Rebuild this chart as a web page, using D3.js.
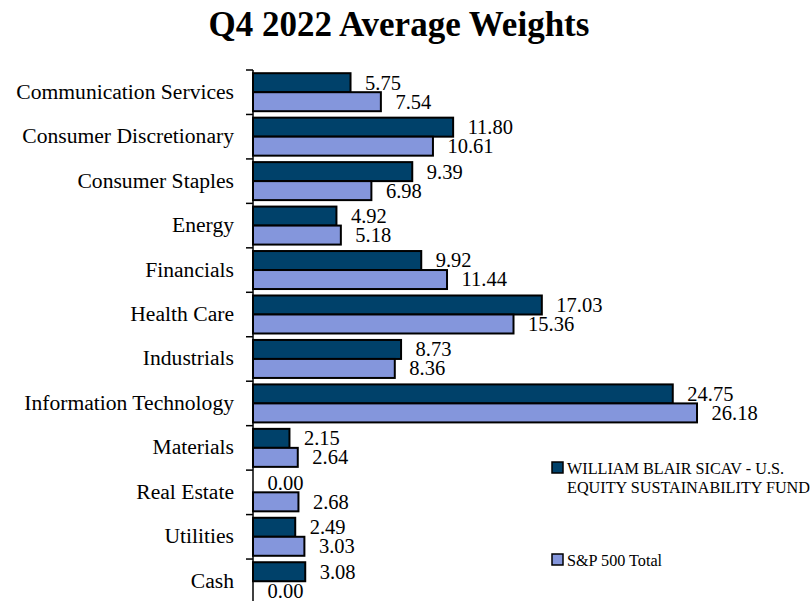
<!DOCTYPE html>
<meta charset="utf-8">
<style>
body { margin: 0; background: #fff; }
svg text { font-family: 'Liberation Serif', serif; fill: #000; }
.title { font-size: 35px; font-weight: bold; }
.cat { font-size: 21.6px; }
.val { font-size: 20.5px; }
.legend text { font-size: 16.2px; }
</style>
<svg width="811" height="601"></svg>
<script src="https://d3js.org/d3.v7.min.js"></script>
<script>

var categories = ["Communication Services", "Consumer Discretionary", "Consumer Staples", "Energy",
    "Financials", "Health Care", "Industrials", "Information Technology", "Materials",
    "Real Estate", "Utilities", "Cash"];
var seriesNames = ["WILLIAM BLAIR SICAV - U.S. EQUITY SUSTAINABILITY FUND", "S&P 500 Total"];
var fundValues = [5.75, 11.80, 9.39, 4.92, 9.92, 17.03, 8.73, 24.75, 2.15, 0.00, 2.49, 3.08];
var spValues = [7.54, 10.61, 6.98, 5.18, 11.44, 15.36, 8.36, 26.18, 2.64, 2.68, 3.03, 0.00];
var colors = ["#00416a", "#8496dc"];

var svg = d3.select("svg");

var x = d3.scaleLinear().domain([0, 30]).range([253, 761.8]);
var y = d3.scaleBand().domain(categories).range([70, 603.5]);
var sub = d3.scaleBand().domain([0, 1]).range([3.2, 41.2]);

svg.append("text")
    .attr("class", "title")
    .attr("x", 399)
    .attr("y", 36)
    .attr("text-anchor", "middle")
    .text("Q4 2022 Average Weights");

var rows = categories.map(function(c, i) {
  return {cat: c, vals: [fundValues[i], spValues[i]]};
});

var g = svg.selectAll(".row")
  .data(rows)
  .enter().append("g")
    .attr("class", "row")
    .attr("transform", function(d) { return "translate(0," + y(d.cat) + ")"; });

g.selectAll("rect")
  .data(function(d) { return d.vals; })
  .enter().append("rect")
    .attr("x", x(0))
    .attr("y", function(d, i) { return sub(i); })
    .attr("width", function(d) { return x(d) - x(0); })
    .attr("height", sub.bandwidth())
    .attr("fill", function(d, i) { return colors[i]; })
    .attr("stroke", "#000")
    .attr("stroke-width", 2);

g.selectAll(".val")
  .data(function(d) { return d.vals; })
  .enter().append("text")
    .attr("class", "val")
    .attr("x", function(d) { return x(d) + 14.5; })
    .attr("y", function(d, i) { return sub(i) + sub.bandwidth() / 2; })
    .attr("dy", "0.34em")
    .text(function(d) { return d.toFixed(2); });

g.append("text")
    .attr("class", "cat")
    .attr("x", 234)
    .attr("y", y.bandwidth() / 2)
    .attr("dy", "0.3em")
    .attr("text-anchor", "end")
    .text(function(d) { return d.cat; });

// category axis: line plus ticks at band edges
var axis = svg.append("g").attr("stroke", "#000").attr("stroke-width", 1.5);
axis.append("line")
    .attr("x1", x(0)).attr("x2", x(0))
    .attr("y1", y.range()[0]).attr("y2", y.range()[1]);
axis.selectAll(".tick")
  .data(d3.range(categories.length + 1))
  .enter().append("line")
    .attr("x1", x(0) - 7).attr("x2", x(0))
    .attr("y1", function(i) { return y.range()[0] + i * y.step(); })
    .attr("y2", function(i) { return y.range()[0] + i * y.step(); });

// legend
var legend = svg.append("g").attr("class", "legend");
var legendLines = [["WILLIAM BLAIR SICAV - U.S.", "EQUITY SUSTAINABILITY FUND"], ["S&P 500 Total"]];
var legendY = [474, 566];
legendLines.forEach(function(lines, i) {
  legend.append("rect")
      .attr("x", 552).attr("y", legendY[i] - 12)
      .attr("width", 11).attr("height", 11)
      .attr("fill", colors[i])
      .attr("stroke", "#000").attr("stroke-width", 1.5);
  legend.append("text")
      .attr("x", 567)
      .attr("y", legendY[i])
    .selectAll("tspan")
    .data(lines)
    .enter().append("tspan")
      .attr("x", 567)
      .attr("dy", function(d, j) { return j === 0 ? 0 : 19; })
      .text(function(d) { return d; });
});

</script>
